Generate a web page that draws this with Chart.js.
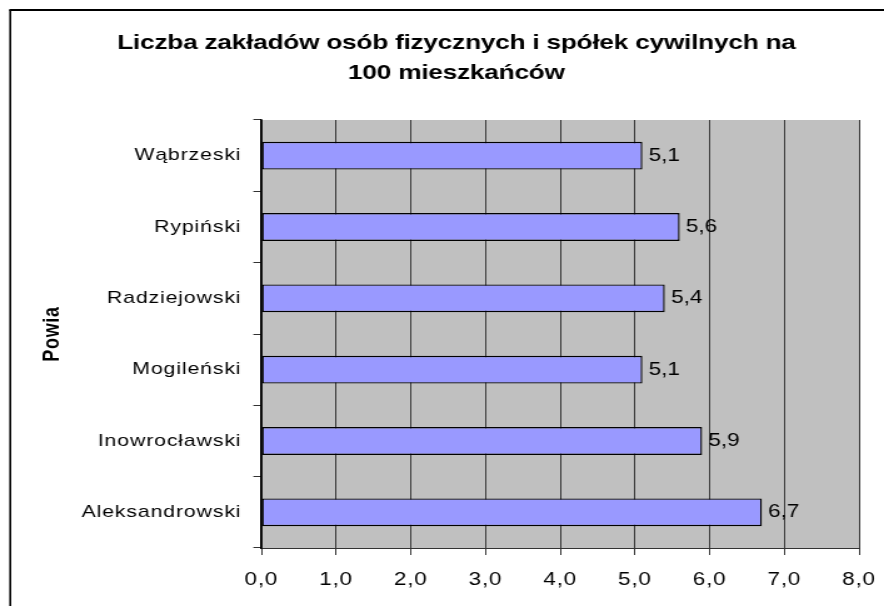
<!DOCTYPE html>
<html>
<head>
<meta charset="utf-8">
<script src="https://cdn.jsdelivr.net/npm/chart.js@4/dist/chart.umd.min.js"></script>
<style>
  html, body { margin: 0; padding: 0; background: #fff; overflow: hidden; }
  #wrap { width: 884px; height: 606px; overflow: hidden; }
  /* the original picture is stretched sideways, so the canvas is too */
  #chart { transform: scaleX(1.2504); transform-origin: 0 0; }
</style>
</head>
<body>
<div id="wrap"><canvas id="chart" width="707" height="606"></canvas></div>
<script>
// data
const powiaty = ['Wąbrzeski', 'Rypiński', 'Radziejowski', 'Mogileński', 'Inowrocławski', 'Aleksandrowski'];
const wartosci = [5.1, 5.6, 5.4, 5.1, 5.9, 6.7];
const xTickLabels = ['0,0', '1,0', '2,0', '3,0', '4,0', '5,0', '6,0', '7,0', '8,0'];
const tytul = ['Liczba zakładów osób fizycznych i spółek cywilnych na', '100 mieszkańców'];
const tytulOsi = 'Powia';

const FONT = '"Liberation Sans", Arial, sans-serif';
const fmt = v => v.toFixed(1).replace('.', ',');

// gray plot area, outer frame and title
const tlo = {
    id: 'tlo',
    beforeDraw(chart) {
        const { ctx, chartArea: a } = chart;
        ctx.save();
        ctx.fillStyle = '#C0C0C0';
        ctx.fillRect(a.left, a.top, a.right - a.left, a.bottom - a.top);

        ctx.strokeStyle = '#000';
        ctx.lineWidth = 1.6;
        ctx.beginPath();
        ctx.moveTo(8.2, 606);
        ctx.lineTo(8.2, 10);
        ctx.stroke();
        ctx.lineWidth = 2;
        ctx.beginPath();
        ctx.moveTo(7.4, 10);
        ctx.lineTo(707, 10);
        ctx.stroke();

        ctx.fillStyle = '#000';
        ctx.font = 'bold 21px ' + FONT;
        ctx.letterSpacing = '-0.2px';
        ctx.textAlign = 'center';
        ctx.textBaseline = 'alphabetic';
        ctx.fillText(tytul[0], 365, 49);
        ctx.fillText(tytul[1], 365, 79);
        ctx.restore();
        ctx.letterSpacing = '0.7px';
    }
};

// value labels next to the bars
const etykiety = {
    id: 'etykiety',
    afterDatasetsDraw(chart) {
        const { ctx } = chart;
        const meta = chart.getDatasetMeta(0);
        ctx.save();
        ctx.font = '18px ' + FONT;
        ctx.letterSpacing = '0px';
        ctx.fillStyle = '#000';
        ctx.textAlign = 'left';
        ctx.textBaseline = 'middle';
        meta.data.forEach((bar, i) => {
            ctx.fillText(fmt(wartosci[i]), bar.x + 5, bar.y);
        });
        ctx.restore();
    }
};

new Chart(document.getElementById('chart'), {
    type: 'bar',
    data: {
        labels: powiaty,
        datasets: [{
            data: wartosci,
            backgroundColor: '#9999FF',
            borderColor: '#000',
            borderWidth: 1.4,
            borderSkipped: false,
            categoryPercentage: 1,
            barPercentage: 0.39
        }]
    },
    options: {
        indexAxis: 'y',
        responsive: false,
        animation: false,
        layout: { padding: { left: 0, top: 120, right: 20, bottom: 0 } },
        plugins: {
            legend: { display: false },
            title: { display: false },
            tooltip: { enabled: false }
        },
        scales: {
            x: {
                min: 0,
                max: 8,
                afterFit: s => {
                    s.height = 58;
                    s.paddingLeft = 0;
                    s.paddingRight = 0;
                },
                ticks: {
                    stepSize: 1,
                    color: '#000',
                    padding: 14,
                    maxRotation: 0,
                    autoSkip: false,
                    font: { family: FONT, size: 18 },
                    callback: v => xTickLabels[v]
                },
                grid: { color: '#3a3a3a', lineWidth: 1, tickLength: 7, drawTicks: true },
                border: { color: '#333', width: 1 }
            },
            y: {
                afterFit: s => { s.width = 209; },
                ticks: {
                    color: '#000',
                    padding: 9.5,
                    font: { family: FONT, size: 17 }
                },
                grid: { drawOnChartArea: false, color: '#333', tickLength: 6.4, offset: true },
                border: { color: '#000', width: 1.6 },
                title: {
                    display: true,
                    text: tytulOsi,
                    color: '#000',
                    padding: { top: 31, bottom: 0 },
                    font: { family: FONT, size: 18, weight: 'bold' }
                }
            }
        }
    },
    plugins: [tlo, etykiety]
});
</script>
</body>
</html>
